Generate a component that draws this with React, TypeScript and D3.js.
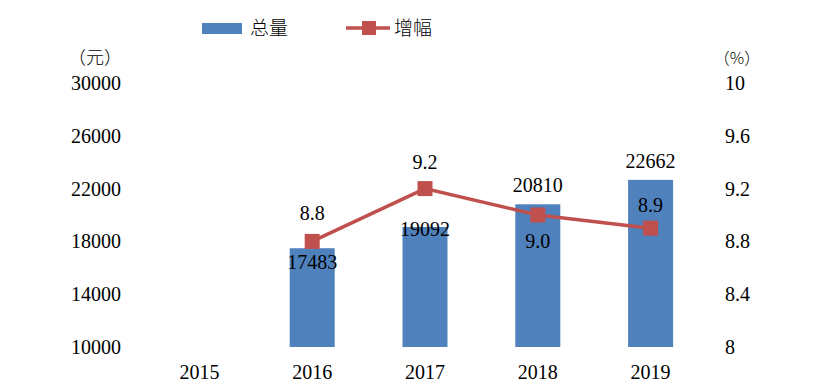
import React from "react";
import * as d3 from "d3";

const years = ["2015", "2016", "2017", "2018", "2019"];
const totals: (number | null)[] = [null, 17483, 19092, 20810, 22662];
const growth: (number | null)[] = [null, 8.8, 9.2, 9.0, 8.9];
const leftTicks = [10000, 14000, 18000, 22000, 26000, 30000];
const rightTicks = [8, 8.4, 8.8, 9.2, 9.6, 10];
const totalLabelDy = [0, 14, 2, -19, -19];
const growthLabelDy = [0, -28, -27, 26, -23];

const W = 819, H = 382;
const BLUE = "#4F81BD", RED = "#C0504D";
const FONT = "Liberation Serif, serif";
const CJK = "Noto Sans CJK SC, sans-serif";

export default function App() {
  const x = d3.scaleBand<string>().domain(years).range([143, 707]).paddingInner(0.6).paddingOuter(0.3);
  const xc = (y: string) => (x(y) ?? 0) + x.bandwidth() / 2;
  const yL = d3.scaleLinear().domain([10000, 30000]).range([347, 83]);
  const yR = d3.scaleLinear().domain([8, 10]).range([347, 83]);
  const pts = years
    .map((yr, i) => ({ yr, v: growth[i], i }))
    .filter((d) => d.v != null) as { yr: string; v: number; i: number }[];
  const line = d3.line<{ yr: string; v: number }>().x((d) => xc(d.yr)).y((d) => yR(d.v));
  const bw = 45;
  const num = { fontFamily: FONT, fontSize: 20 } as React.CSSProperties;
  return (
    <svg width={W} height={H} style={{ position: "absolute", left: 0, top: 0, background: "#fff" }}>
      {/* legend */}
      <rect x={202} y={23} width={40} height={11} fill={BLUE} />
      <text x={250} y={35} style={{ fontFamily: CJK, fontSize: 19, fontWeight: 300 }} fill="#000">总量</text>
      <line x1={346} x2={390} y1={28} y2={28} stroke={RED} strokeWidth={3.5} />
      <rect x={362} y={21} width={14} height={14} fill={RED} />
      <text x={394} y={35} style={{ fontFamily: CJK, fontSize: 19, fontWeight: 300 }} fill="#000">增幅</text>
      {/* units */}
      <text x={95} y={58} dy="0.35em" textAnchor="middle" style={{ fontFamily: CJK, fontSize: 18, fontWeight: 300 }}>（元）</text>
      <text x={737} y={58} dy="0.35em" textAnchor="middle" style={{ fontFamily: CJK, fontSize: 16, fontWeight: 300 }}>（%）</text>
      {/* left ticks */}
      {leftTicks.map((t) => (
        <text key={t} x={121} y={yL(t)} dy="0.35em" textAnchor="end" style={num}>{t}</text>
      ))}
      {rightTicks.map((t) => (
        <text key={t} x={725} y={yR(t)} dy="0.35em" textAnchor="start" style={num}>{t}</text>
      ))}
      {/* x labels */}
      {years.map((yr) => (
        <text key={yr} x={xc(yr)} y={372} dy="0.35em" textAnchor="middle" style={num}>{yr}</text>
      ))}
      {/* bars */}
      {years.map((yr, i) =>
        totals[i] == null ? null : (
          <rect key={yr} x={xc(yr) - bw / 2} y={yL(totals[i] as number)} width={bw} height={yL(10000) - yL(totals[i] as number)} fill={BLUE} />
        )
      )}
      {/* line */}
      <path d={line(pts) ?? ""} fill="none" stroke={RED} strokeWidth={3.5} />
      {pts.map((d) => (
        <rect key={d.yr} x={xc(d.yr) - 7.5} y={yR(d.v) - 7.5} width={15} height={15} fill={RED} />
      ))}
      {/* bar labels */}
      {years.map((yr, i) =>
        totals[i] == null ? null : (
          <text key={yr} x={xc(yr)} y={yL(totals[i] as number) + totalLabelDy[i]} dy="0.35em" textAnchor="middle" style={num}>{totals[i]}</text>
        )
      )}
      {pts.map((d) => (
        <text key={d.yr} x={xc(d.yr)} y={yR(d.v) + growthLabelDy[d.i]} dy="0.35em" textAnchor="middle" style={num}>{d.v.toFixed(1)}</text>
      ))}
    </svg>
  );
}
